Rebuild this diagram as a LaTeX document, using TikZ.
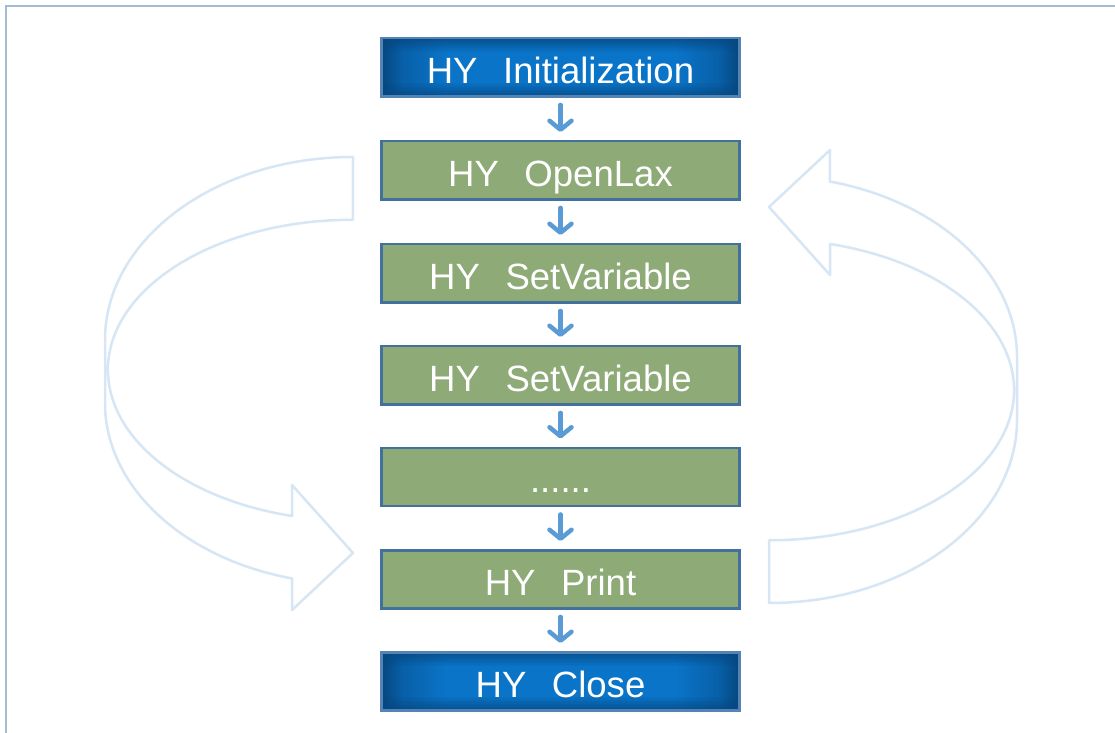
\documentclass[tikz,border=0pt]{standalone}
\usepackage{fontspec}
\setmainfont{Liberation Sans}
\usetikzlibrary{arrows.meta}

\definecolor{framecol}{HTML}{A3BBD3}
\definecolor{curvecol}{HTML}{D6E6F5}
\definecolor{boxline}{HTML}{41719C}
\definecolor{blueline}{HTML}{5583B3}
\definecolor{greenfill}{HTML}{8DAA77}
\definecolor{arrcol}{HTML}{5B9BD5}
\definecolor{bdark}{HTML}{06467E}
\definecolor{bmid}{HTML}{0860A8}
\definecolor{bbright}{HTML}{0A74C8}

\pgfdeclarehorizontalshading{bluegrad}{100bp}{color(0bp)=(bdark); color(25bp)=(bdark); color(28bp)=(bmid); color(34bp)=(bbright); color(66bp)=(bbright); color(72bp)=(bmid); color(75bp)=(bdark); color(100bp)=(bdark)}

\tikzset{
  box/.style={rectangle, line width=0.05cm, minimum width=7.17cm, minimum height=1.17cm,
    inner sep=0pt, text=white, text height=0.64cm, text depth=0cm,
    font=\fontsize{20.8}{25}\selectfont},
  greenbox/.style={box, draw=boxline, fill=greenfill},
  bluebox/.style={box, draw=blueline, shade, shading=bluegrad,
    path picture={
      \foreach \i in {0,...,9}{
        \pgfmathsetmacro\op{0.75*(1-\i/10)}
        \fill[bdark, fill opacity=\op]
          ([yshift=-\i*0.028cm]path picture bounding box.north west) rectangle ([yshift=-\i*0.028cm-0.028cm]path picture bounding box.north east);
        \fill[bdark, fill opacity=\op]
          ([yshift=\i*0.028cm]path picture bounding box.south west) rectangle ([yshift=\i*0.028cm+0.028cm]path picture bounding box.south east);
      }
    }},
  smallarr/.style={draw=arrcol, line width=0.09cm, line cap=round,
    -{Straight Barb[length=0.18cm, width=0.44cm, round]}},
  curvearr/.style={draw=curvecol, line width=0.05cm, line join=round}
}

\begin{document}
\begin{tikzpicture}[x=0.02cm, y=0.02cm]
  \useasboundingbox (0,0) rectangle (1115,733);
  \fill[white] (0,0) rectangle (1115,733);
  \draw[framecol, line width=0.04cm] (6,0) -- (6,727.3) -- (1115,727.3);

  \foreach \r in {0,180}
    \draw[curvearr, rotate around={\r:(561,353)}]
      (353,576) arc[start angle=90, end angle=180, x radius=248, y radius=183]
      -- (105,330) arc[start angle=180, end angle=255.8, x radius=248, y radius=181]
      -- (292,123) -- (353,180) -- (292,248) -- (292,217)
      arc[start angle=255.6, end angle=180, x radius=245, y radius=151]
      arc[start angle=180, end angle=90, x radius=245, y radius=150] -- cycle;

  \node[bluebox]  (b1) at (560.5,665.5) {HY\hspace{0.7em}Initialization};
  \node[greenbox] (b2) at (560.5,562.5) {HY\hspace{0.7em}OpenLax};
  \node[greenbox] (b3) at (560.5,459.5) {HY\hspace{0.7em}SetVariable};
  \node[greenbox] (b4) at (560.5,357.5) {HY\hspace{0.7em}SetVariable};
  \node[greenbox] (b5) at (560.5,256)   {......};
  \node[greenbox] (b6) at (560.5,153.5) {HY\hspace{0.7em}Print};
  \node[bluebox]  (b7) at (560.5,51.5)  {HY\hspace{0.7em}Close};

  \foreach \a/\b in {b1/b2,b2/b3,b3/b4,b4/b5,b5/b6,b6/b7}
    \draw[smallarr] ([yshift=-0.14cm]\a.south) -- ([yshift=0.16cm]\b.north);
\end{tikzpicture}
\end{document}
